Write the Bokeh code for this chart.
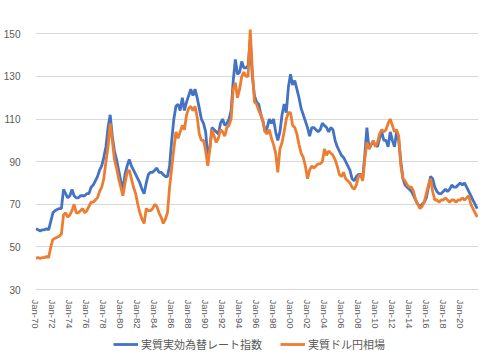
import numpy as np
import pandas as pd
from bokeh.plotting import figure
from bokeh.layouts import column
from bokeh.models import FixedTicker, Legend, LegendItem, ColumnDataSource, Range1d
from bokeh.embed import file_html
from bokeh.resources import INLINE

# Quarterly values, 1970Q1 .. 2022Q1
reer = [
    58.5, 58, 57.5, 58,      # 1970
    58, 58.5, 58, 62,        # 1971
    66, 67, 67.5, 68,        # 1972
    68, 77, 75, 73,          # 1973
    74, 77, 74, 73,          # 1974
    73, 74, 74, 74,          # 1975
    75, 75, 78, 79,          # 1976
    81, 83, 86, 88,          # 1977
    92, 97, 106, 112,        # 1978
    102, 95, 91, 86,         # 1979
    81, 77, 84, 88,          # 1980
    91, 88, 86, 84,          # 1981
    82, 80, 77, 75,          # 1982
    80, 84, 85, 85,          # 1983
    86, 87, 85, 85,          # 1984
    84, 83, 83, 88,          # 1985
    100, 110, 116, 117,      # 1986
    114, 120, 114, 118,      # 1987
    121, 124, 121, 124,      # 1988
    120, 115, 110, 108,      # 1989
    104, 92, 97, 106,        # 1990
    105, 104, 103, 108,      # 1991
    110, 107, 108, 110,      # 1992
    114, 128, 138, 131,      # 1993
    132, 137, 134, 134,      # 1994
    135, 147, 130, 121,      # 1995
    118, 117, 112, 109,      # 1996
    104, 106, 110, 108,      # 1997
    110, 104, 100, 104,      # 1998
    112, 117, 113, 125,      # 1999
    131, 126, 128, 124,      # 2000
    120, 115, 112, 109,      # 2001
    106, 102, 106, 106,      # 2002
    105, 104, 105, 108,      # 2003
    107, 106, 104, 106,      # 2004
    105, 100, 97, 95,        # 2005
    93, 92, 90, 88,          # 2006
    86, 82, 81, 83,          # 2007
    84, 84, 82, 93,          # 2008
    106, 96, 98, 99,         # 2009
    98, 97, 101, 104,        # 2010
    100, 100, 97, 104,       # 2011
    100, 97, 104, 100,       # 2012
    90, 82, 79, 78,          # 2013
    77, 76, 74, 72,          # 2014
    70, 69, 70, 71,          # 2015
    73, 78, 83, 82,          # 2016
    78, 76, 75, 75,          # 2017
    76, 77, 76, 77,          # 2018
    79, 78, 78, 79,          # 2019
    80, 79, 80, 78,          # 2020
    76, 74, 72, 70,          # 2021
    68,                      # 2022
]

usdjpy = [
    44.7, 45, 44.5, 45,      # 1970
    45, 45.5, 45, 50,        # 1971
    53.5, 54, 54.5, 55,      # 1972
    56, 65, 66, 64,          # 1973
    65, 67, 70, 66,          # 1974
    66, 67, 68, 66,          # 1975
    67, 69, 71, 71,          # 1976
    72, 73, 76, 78,          # 1977
    82, 90, 97, 108,         # 1978
    100, 91, 87, 82,         # 1979
    78, 74, 80, 85,          # 1980
    86, 82, 78, 75,          # 1981
    70, 66, 63, 61,          # 1982
    68, 67, 67, 68,          # 1983
    70, 69, 66, 64,          # 1984
    61, 63, 66, 78,          # 1985
    87, 96, 104, 101,        # 1986
    104, 107, 105, 112,      # 1987
    115, 116, 114, 116,      # 1988
    111, 103, 100, 100,      # 1989
    95, 88, 96, 105,         # 1990
    102, 99, 101, 105,       # 1991
    104, 102, 106, 107,      # 1992
    110, 124, 127, 120,      # 1993
    124, 130, 132, 130,      # 1994
    130, 152, 133, 118,      # 1995
    117, 114, 112, 109,      # 1996
    104, 103, 105, 101,      # 1997
    98, 94, 85, 96,          # 1998
    99, 104, 110, 113,       # 1999
    113, 107, 106, 103,      # 2000
    98, 94, 92, 88,          # 2001
    82, 86, 88, 87,          # 2002
    88, 89, 89, 90,          # 2003
    96, 93, 95, 94,          # 2004
    93, 91, 88, 84,          # 2005
    83, 85, 82, 81,          # 2006
    80, 78, 77, 79,          # 2007
    83, 84, 81, 91,          # 2008
    99, 96, 98, 100,         # 2009
    97, 99, 103, 105,        # 2010
    104, 105, 108, 110,      # 2011
    107, 104, 105, 102,      # 2012
    88, 82, 81, 79,          # 2013
    78, 78, 76, 72,          # 2014
    70, 68, 69, 71,          # 2015
    75, 79, 82, 76,          # 2016
    72, 72, 71, 72,          # 2017
    72, 73, 72, 71,          # 2018
    72, 72, 71, 72,          # 2019
    72, 73, 72, 73,          # 2020
    74, 70, 68, 66,          # 2021
    64,                      # 2022
]

tick_years = [1970, 1972, 1974, 1976, 1978, 1980, 1982, 1984, 1986, 1988, 1990,
              1992, 1994, 1996, 1998, 2000, 2002, 2004, 2006, 2008, 2010, 2012,
              2014, 2016, 2018, 2020]
tick_labels = ["Jan-70", "Jan-72", "Jan-74", "Jan-76", "Jan-78", "Jan-80", "Jan-82",
               "Jan-84", "Jan-86", "Jan-88", "Jan-90", "Jan-92", "Jan-94", "Jan-96",
               "Jan-98", "Jan-00", "Jan-02", "Jan-04", "Jan-06", "Jan-08", "Jan-10",
               "Jan-12", "Jan-14", "Jan-16", "Jan-18", "Jan-20"]
y_ticks = [30, 50, 70, 90, 110, 130, 150]
series_names = ["実質実効為替レート指数", "実質ドル円相場"]
colors = ["#4472C4", "#ED7D31"]

periods = pd.period_range("1970Q1", periods=len(reer), freq="Q")
t = np.array([p.year + (p.quarter - 1) / 4 for p in periods])

src = ColumnDataSource(dict(t=t, reer=reer, usd=usdjpy))

p = figure(width=484, height=331, output_backend="svg", toolbar_location=None,
           x_range=Range1d(1969.95, 2022.15), y_range=Range1d(30, 160),
           min_border_left=27, min_border_right=6, min_border_top=12, min_border_bottom=38)
p.outline_line_color = None
p.background_fill_color = "white"
p.border_fill_color = "white"

p.line("t", "reer", source=src, line_color=colors[0], line_width=2.8)
p.line("t", "usd", source=src, line_color=colors[1], line_width=2.8)

p.xgrid.grid_line_color = None
p.ygrid.grid_line_color = "#d9d9d9"
p.ygrid.ticker = FixedTicker(ticks=y_ticks)

p.yaxis.ticker = FixedTicker(ticks=y_ticks)
p.yaxis.axis_line_color = None
p.yaxis.major_tick_line_color = None
p.yaxis.minor_tick_line_color = None
p.yaxis.major_label_standoff = 9
p.yaxis.major_label_text_font = "Liberation Sans"
p.yaxis.major_label_text_font_size = "10px"
p.yaxis.major_label_text_color = "#595959"

p.xaxis.ticker = FixedTicker(ticks=tick_years)
p.xaxis.major_label_overrides = {yr: lab for yr, lab in zip(tick_years, tick_labels)}
p.xaxis.major_label_orientation = "vertical"
p.xaxis.axis_line_color = "#d9d9d9"
p.xaxis.major_tick_line_color = None
p.xaxis.minor_tick_line_color = None
p.xaxis.major_label_standoff = 4
p.xaxis.major_label_text_font = "Liberation Sans"
p.xaxis.major_label_text_font_size = "9.5px"
p.xaxis.major_label_text_color = "#595959"

# legend strip below the chart (glyph data lies outside the strip's ranges)
lg = figure(width=484, height=22, output_backend="svg", toolbar_location=None,
            x_range=Range1d(0, 1), y_range=Range1d(0, 1), min_border=0)
lg.axis.visible = False
lg.grid.grid_line_color = None
lg.outline_line_color = None
lr1 = lg.line([5, 6], [5, 6], line_color=colors[0], line_width=2.8)
lr2 = lg.line([5, 6], [5, 6], line_color=colors[1], line_width=2.8)
legend = Legend(items=[LegendItem(label=series_names[0], renderers=[lr1]),
                       LegendItem(label=series_names[1], renderers=[lr2])],
                orientation="horizontal", location=(78, 1),
                label_text_font="Noto Sans CJK JP", label_text_font_size="11px",
                label_text_color="#595959", glyph_width=25, glyph_height=12,
                label_height=12, spacing=18, label_standoff=3, padding=4, margin=0,
                border_line_color=None, background_fill_alpha=0)
lg.add_layout(legend, "center")

layout = column(p, lg, spacing=0)
open("out.html", "w").write(file_html(layout, INLINE))
